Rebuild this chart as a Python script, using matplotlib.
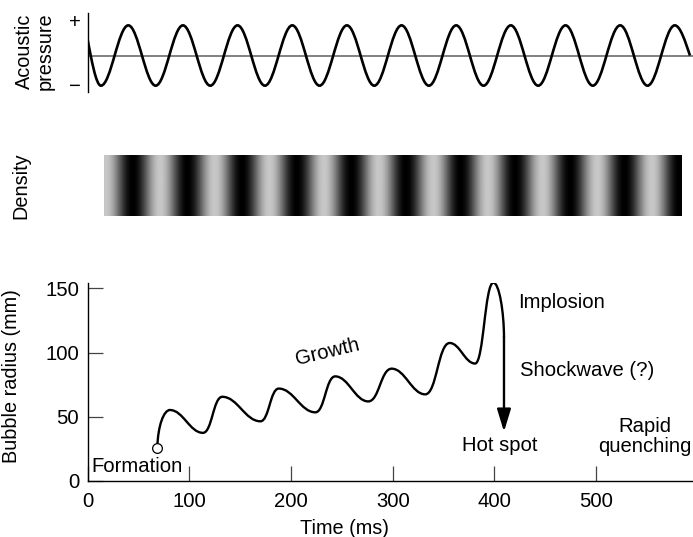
import numpy as np
import matplotlib
matplotlib.use("Agg")
import matplotlib.pyplot as plt
from matplotlib.path import Path
from matplotlib.patches import PathPatch, FancyArrowPatch

plt.rcParams['font.family'] = ['Liberation Sans', 'DejaVu Sans']

# ---------------- data ----------------
# Acoustic pressure: start point, turning points, end point (time ms, relative pressure)
pressure_t = [0.0, 13.2, 40.1, 67.0, 93.8, 120.7, 147.5, 174.4, 201.3, 228.1,
              255.0, 281.9, 308.7, 335.6, 362.4, 389.3, 416.1, 443.0, 469.9,
              496.7, 523.6, 550.5, 577.3, 592.2]
pressure_v = [0.55, -1, 1, -1, 1, -1, 1, -1, 1, -1,
              1, -1, 1, -1, 1, -1, 1, -1, 1,
              -1, 1, -1, 1, 0.0]

# Density strip time span (ms) and lag of the density pattern behind the pressure (ms)
density_t = [16.2, 583.6]
density_lag = 4.0

# Bubble radius: formation point then turning points (time ms, radius mm)
bubble_t = [68.6, 81.0, 113.5, 132.5, 170.0, 188.0, 224.0, 243.5, 276.0,
            299.0, 332.0, 356.0, 381.0, 399.0]
bubble_r = [25.9, 55.3, 37.5, 65.6, 46.5, 72.0, 53.5, 81.5, 62.0,
            87.5, 67.5, 107.5, 91.5, 154.5]

# Collapse: vertical fall time, start of straight fall and arrow tip radius
collapse_t = 409.4
collapse_r = [112.0, 38.4]

x_ticks = [0, 100, 200, 300, 400, 500]
y_ticks = [0, 50, 100, 150]

# ---------------- helpers ----------------
def bezier_segments(ts, vs, k_up=0.36, k_down=0.36, first=None, last=None):
    """Build cubic Bezier control points between successive turning points."""
    segs = []
    n = len(ts)
    for i in range(n - 1):
        t0, v0, t1, v1 = ts[i], vs[i], ts[i + 1], vs[i + 1]
        dt = t1 - t0
        k = k_up if v1 > v0 else k_down
        p1 = (t0 + k * dt, v0)
        p2 = (t1 - k * dt, v1)
        if i == 0 and first is not None:
            p1 = (t0 + first[0] * dt, v0 + first[1] * (v1 - v0))
        if i == n - 2 and last is not None:
            p2 = (t1 - last[0] * dt, v1 - last[1] * (v1 - v0))
        segs.append(((t0, v0), p1, p2, (t1, v1)))
    return segs


def segs_to_path(segs):
    verts = [segs[0][0]]
    codes = [Path.MOVETO]
    for s in segs:
        verts += [s[1], s[2], s[3]]
        codes += [Path.CURVE4] * 3
    return Path(verts, codes)


def eval_segs(segs, npts=60):
    xs, ys = [], []
    s = np.linspace(0, 1, npts)
    for P0, P1, P2, P3 in segs:
        b0, b1, b2, b3 = (1 - s) ** 3, 3 * (1 - s) ** 2 * s, 3 * (1 - s) * s ** 2, s ** 3
        xs.append(b0 * P0[0] + b1 * P1[0] + b2 * P2[0] + b3 * P3[0])
        ys.append(b0 * P0[1] + b1 * P1[1] + b2 * P2[1] + b3 * P3[1])
    return np.concatenate(xs), np.concatenate(ys)


# ---------------- figure ----------------
W, H = 693, 537
fig = plt.figure(figsize=(W / 100, H / 100), dpi=100)

x0_px, x1_px = 87.5, 692.8
xlim = (0, 595)


def ax_rect(top_px, bottom_px):
    return [x0_px / W, (H - bottom_px) / H, (x1_px - x0_px) / W, (bottom_px - top_px) / H]


FS = 14.6
FSL = 14.3

# ---- top: acoustic pressure ----
ax0 = fig.add_axes(ax_rect(13, 92))
ax0.set_xlim(*xlim)
ax0.set_ylim(-1.21, 1.41)
ax0.axhline(0, color='#777777', lw=1.3, zorder=1)
p_segs = bezier_segments(pressure_t, pressure_v, first=(0.3, 0.45), last=(0.3, 0.45))
ax0.add_patch(PathPatch(segs_to_path(p_segs), facecolor='none', edgecolor='black',
                        lw=1.9, zorder=2, capstyle='butt'))
for s in ['top', 'right', 'bottom']:
    ax0.spines[s].set_visible(False)
ax0.spines['left'].set_linewidth(1.0)
ax0.set_xticks([])
ax0.set_yticks([])
ax0.text(-0.0205, 1.08, '+', transform=ax0.get_yaxis_transform(), ha='center',
         va='center', fontsize=FS)
ax0.text(-0.0205, -1.01, '\u2212', transform=ax0.get_yaxis_transform(), ha='center',
         va='center', fontsize=FS)
fig.text(34.6 / W, 1 - 51 / H, 'Acoustic\npressure', rotation=90, ha='center',
         va='center', fontsize=FSL, linespacing=1.1)

# ---- middle: density strip ----
ax1 = fig.add_axes(ax_rect(155, 216))
ax1.set_xlim(*xlim)
ax1.set_ylim(0, 1)
cols = np.linspace(density_t[0], density_t[1], 600)
px_, pv_ = eval_segs(p_segs, 80)
order = np.argsort(px_)
dens = np.interp(cols - density_lag, px_[order], pv_[order])
ax1.imshow(-dens[np.newaxis, :], cmap='gray', vmin=-1, vmax=1.56, aspect='auto',
           extent=[density_t[0], density_t[1], 0, 1], interpolation='bilinear')
ax1.axis('off')
fig.text(21 / W, 1 - 185.5 / H, 'Density', rotation=90, ha='center', va='center',
         fontsize=FSL)

# ---- bottom: bubble radius ----
ax2 = fig.add_axes(ax_rect(283.3, 481))
ax2.set_xlim(*xlim)
ax2.set_ylim(0, 154)
b_segs = bezier_segments(bubble_t, bubble_r, k_up=0.47, k_down=0.4, first=(0.05, 0.6))
# collapse curve from last peak to the vertical fall
tp, rp = bubble_t[-1], bubble_r[-1]
dtc = collapse_t - tp
drc = rp - collapse_r[0]
b_segs.append(((tp, rp), (tp + 0.55 * dtc, rp), (collapse_t, rp - 0.55 * drc),
               (collapse_t, collapse_r[0])))
ax2.add_patch(PathPatch(segs_to_path(b_segs), facecolor='none', edgecolor='black',
                        lw=1.7, zorder=2, capstyle='butt'))
ax2.add_patch(FancyArrowPatch((collapse_t, collapse_r[0] + 0.5), (collapse_t, collapse_r[1]),
                              arrowstyle='-|>,head_length=0.98,head_width=0.3',
                              mutation_scale=14, lw=1.7, color='black',
                              shrinkA=0, shrinkB=0, zorder=3))
ax2.plot([bubble_t[0]], [bubble_r[0]], 'o', mfc='white', mec='black', ms=7, mew=0.9,
         zorder=4)

for s in ['top', 'right']:
    ax2.spines[s].set_visible(False)
for s in ['left', 'bottom']:
    ax2.spines[s].set_linewidth(1.0)
ax2.set_xticks(x_ticks)
ax2.set_yticks(y_ticks)
ax2.tick_params(direction='in', length=11, width=0.9, color='#444444',
                labelsize=FS, pad=8)
ax2.tick_params(axis='y', pad=6)
ax2.set_xlabel('Time (ms)', fontsize=FSL, labelpad=2)
ax2.xaxis.set_label_coords((344 - x0_px) / (x1_px - x0_px), -0.19)
ax2.set_ylabel('Bubble radius (mm)', fontsize=FSL)
ax2.yaxis.set_label_coords((21.5 - x0_px) / (x1_px - x0_px), 0.53)

ax2.text(3.5, 11.1, 'Formation', fontsize=FS, ha='left', va='center')
ax2.text(236.4, 100.4, 'Growth', fontsize=FS, ha='center', va='center', rotation=13.5)
ax2.text(423.4, 138.8, 'Implosion', fontsize=FS, ha='left', va='center')
ax2.text(425.1, 86.4, 'Shockwave (?)', fontsize=FS, ha='left', va='center')
ax2.text(405.5, 27.5, 'Hot spot', fontsize=FS, ha='center', va='center')
ax2.text(548, 34.5, 'Rapid\nquenching', fontsize=FS, ha='center', va='center',
         multialignment='center', linespacing=1.05)

fig.savefig('out.png', dpi=100)
